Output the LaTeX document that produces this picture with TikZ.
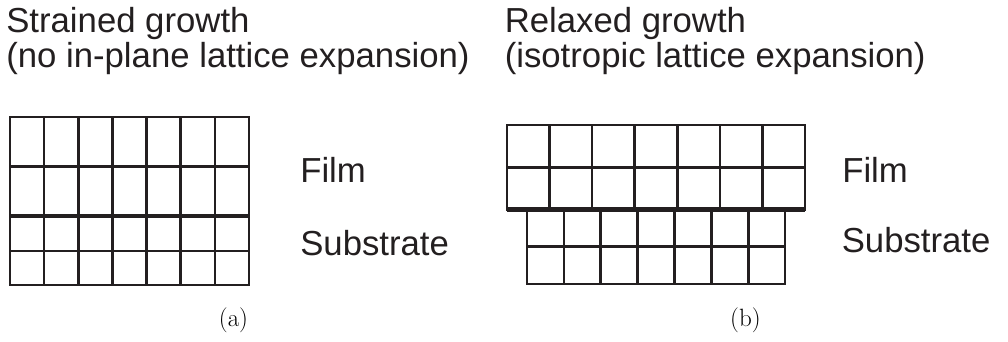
\documentclass[tikz,border=0pt]{standalone}
\usepackage{fontspec}
\newfontfamily\labelfont{Liberation Sans}
\usepackage{tikz}
\usetikzlibrary{positioning}
\definecolor{ink}{HTML}{231F20}
\tikzset{
  cell/.style={draw=ink, line width=1.9pt},
  interface/.style={draw=ink, line width=3pt},
  label/.style={anchor=base west, inner sep=0pt, text=ink, font=\labelfont\fontsize{24.7}{29}\selectfont},
  caption/.style={inner sep=0pt, font=\fontsize{17.8}{21}\selectfont},
}

\begin{document}
\begin{tikzpicture}[x=0.025cm, y=-0.025cm]
  \useasboundingbox (0,0) rectangle (1008,342);

  % (a) strained film on substrate
  \draw[cell] (10,117) rectangle (249,285);
  \foreach \i in {1,...,6}
    \draw[cell] ({10+\i*34.14},117) -- ({10+\i*34.14},285);
  \draw[cell] (10,166.5) -- (249,166.5);
  \draw[cell] (10,251) -- (249,251);
  \draw[interface] (10,216) -- (249,216);

  % (b) relaxed film on substrate
  \draw[cell] (527,209.5) rectangle (785,284);
  \foreach \i in {1,...,6}
    \draw[cell] ({527+\i*36.86},209.5) -- ({527+\i*36.86},284);
  \draw[cell] (527,246.7) -- (785,246.7);
  \draw[cell] (507,125) rectangle (805,209.5);
  \foreach \i in {1,...,6}
    \draw[cell] ({507+\i*42.57},125) -- ({507+\i*42.57},209.5);
  \draw[cell] (507,167.3) -- (805,167.3);
  \draw[interface] (507,209.5) -- (805,209.5);

  % headings
  \node[label] (titleA) at (6,32) {Strained growth};
  \node[label] (subtitleA) at (6,67) {(no in-plane lattice expansion)};
  \node[label] (titleB) at (504.5,32) {Relaxed growth};
  \node[label] (subtitleB) at (504.5,67) {(isotropic lattice expansion)};

  % layer names
  \node[label] (filmA) at (300,182) {Film};
  \node[label] (substrateA) at (300,255) {Substrate};
  \node[label] (filmB) at (842,182) {Film};
  \node[label] (substrateB) at (841.5,252) {Substrate};

  \node[caption] (capA) at (233.5,320.5) {(a)};
  \node[caption] (capB) at (745.5,320.5) {(b)};
\end{tikzpicture}
\end{document}
